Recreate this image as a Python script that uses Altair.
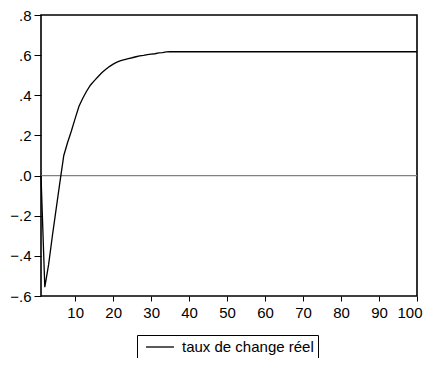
import altair as alt
import pandas as pd

periods = list(range(1, 101))
values = [
    0.000, -0.556, -0.444, -0.300, -0.165, -0.030, 0.100, 0.165, 0.222, 0.285,
    0.345, 0.385, 0.420, 0.450, 0.472, 0.492, 0.512, 0.528, 0.543, 0.555,
    0.565, 0.573, 0.578, 0.583, 0.587, 0.592, 0.596, 0.599, 0.603, 0.605,
    0.607, 0.611, 0.613, 0.616, 0.617, 0.617, 0.617, 0.617, 0.617, 0.617,
    0.617, 0.617, 0.617, 0.617, 0.617, 0.617, 0.617, 0.617, 0.617, 0.617,
    0.617, 0.617, 0.617, 0.617, 0.617, 0.617, 0.617, 0.617, 0.617, 0.617,
    0.617, 0.617, 0.617, 0.617, 0.617, 0.617, 0.617, 0.617, 0.617, 0.617,
    0.617, 0.617, 0.617, 0.617, 0.617, 0.617, 0.617, 0.617, 0.617, 0.617,
    0.617, 0.617, 0.617, 0.617, 0.617, 0.617, 0.617, 0.617, 0.617, 0.617,
    0.617, 0.617, 0.617, 0.617, 0.617, 0.617, 0.617, 0.617, 0.617, 0.617,
]
series_name = "taux de change réel"
x_ticks = [10, 20, 30, 40, 50, 60, 70, 80, 90, 100]
y_ticks = [-0.6, -0.4, -0.2, 0.0, 0.2, 0.4, 0.6, 0.8]

df = pd.DataFrame({"t": periods, "v": values, "s": series_name})
zero = pd.DataFrame({"y": [0.0]})

FONT = "Liberation Sans"

x = alt.X("t:Q", scale=alt.Scale(domain=[1, 100], nice=False, zero=False),
          axis=alt.Axis(values=x_ticks, title=None, grid=False, tickSize=5,
                        labelPadding=4, labelFontSize=15, labelFont=FONT,
                        labelColor="black", tickColor="black", domain=False,
                        labelFlush=True, labelFlushOffset=5))
y = alt.Y("v:Q", scale=alt.Scale(domain=[-0.6, 0.8], nice=False, zero=False),
          axis=alt.Axis(values=y_ticks, title=None, grid=False, tickSize=7,
                        labelPadding=3, labelFontSize=15, labelFont=FONT,
                        labelColor="black", tickColor="black", domain=False,
                        labelExpr="replace(format(datum.value, '.1f'), '0.', '.')"))

zero_line = alt.Chart(zero).mark_rule(color="#808080", strokeWidth=1.2).encode(y=alt.Y("y:Q"))

line = alt.Chart(df).mark_line(strokeWidth=1.3, interpolate="linear").encode(
    x=x, y=y,
    color=alt.Color("s:N", scale=alt.Scale(range=["black"]),
                    legend=alt.Legend(orient="none", legendX=96, legendY=320,
                                      title=None, strokeColor="black",
                                      padding=4, symbolType="M-2,0H2",
                                      symbolSize=196, symbolStrokeWidth=1.3,
                                      symbolOffset=11, labelOffset=14,
                                      labelFontSize=15, labelFont=FONT,
                                      labelColor="black", fillColor="white")),
)

chart = alt.layer(zero_line, line).properties(
    width=376, height=281,
    autosize=alt.AutoSizeParams(type="none"),
    padding={"left": 33, "top": 7, "right": 6, "bottom": 62},
).configure(background="white").configure_view(stroke="black", strokeWidth=1.6)

chart.save("out.html", embed_options={"renderer": "svg", "actions": False})
